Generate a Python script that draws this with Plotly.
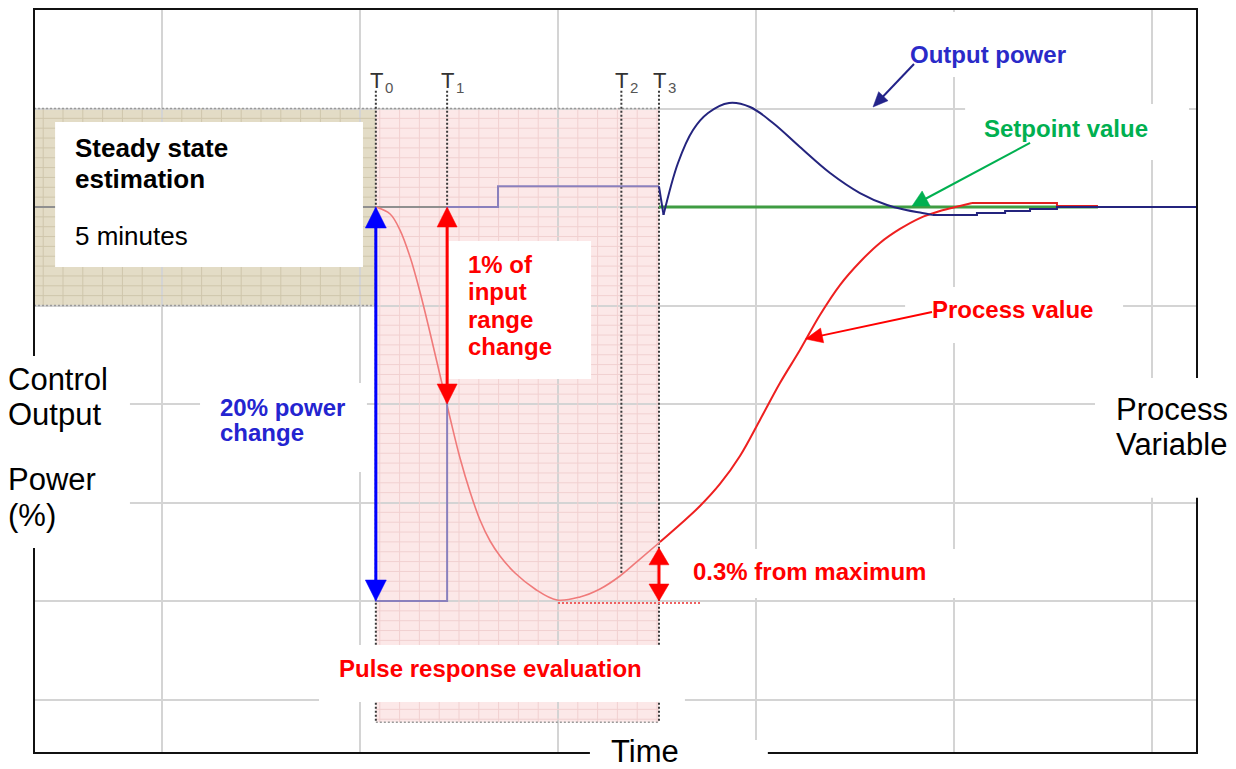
import numpy as np
import plotly.graph_objects as go

# ---------------- data (time in grid divisions, value in grid divisions; setpoint = 0) -------------
T_MARKS = [1.08, 1.44, 2.32, 2.51]          # T0..T3
T_NAMES = ["0", "1", "2", "3"]
T_TOP = 1.18
T_BOTTOM = [-5.23, 0.0, -3.72, -5.23]

# frame extents of the drawing (time / value)
X_LEFT, X_RIGHT = -0.6465, 5.2273
Y_BOTTOM, Y_TOP = -5.5431, 2.0102

# steady-state window and pulse-evaluation window
STEADY_T = [X_LEFT, 1.08]
STEADY_V = [-1.0, 1.0]
PULSE_T = [1.08, 2.51]
PULSE_V = [-5.23, 1.0]

# process value during pulse (faint part, before T3)
pv_pre_t = [1.081, 1.152, 1.202, 1.253, 1.303, 1.354, 1.404, 1.455, 1.505, 1.556, 1.606,
            1.657, 1.707, 1.783, 1.884, 1.995, 2.111, 2.212, 2.313, 2.414, 2.515]
pv_pre_v = [0.0, -0.071, -0.234, -0.508, -0.863, -1.279, -1.706, -2.142, -2.548, -2.893, -3.178,
            -3.391, -3.543, -3.716, -3.878, -3.990, -3.959, -3.878, -3.746, -3.574, -3.401]
# process value after T3
pv_post_t = [2.515, 2.616, 2.717, 2.818, 2.919, 3.020, 3.121, 3.222, 3.323, 3.424, 3.525,
             3.626, 3.727, 3.828, 3.929, 4.030, 4.091]
pv_post_v = [-3.401, -3.223, -3.036, -2.812, -2.528, -2.162, -1.787, -1.452, -1.096, -0.792, -0.558,
             -0.365, -0.223, -0.112, -0.041, 0.010, 0.041]
pv_settle_t = [4.091, 4.52, 4.52, 4.727]
pv_settle_v = [0.041, 0.041, 0.01, 0.01]

# output power: pulse step, then controller response
out_step_t = [1.08, 1.08, 1.44, 1.44, 1.697, 1.697, 2.51]
out_step_v = [0.0, -4.0, -4.0, 0.0, 0.0, 0.21, 0.21]
out_dip_t = [2.51, 2.533]
out_dip_v = [0.21, -0.08]
out_t = [2.533, 2.606, 2.682, 2.758, 2.864, 2.970, 3.086, 3.222, 3.374, 3.525, 3.662, 3.758, 3.84, 3.89]
out_v = [-0.08, 0.447, 0.782, 0.954, 1.056, 1.015, 0.853, 0.609, 0.345, 0.142, 0.020, -0.030, -0.06, -0.08]
out_settle_t = [3.89, 4.116, 4.116, 4.258, 4.258, 4.384, 4.384, 4.52, 4.52, X_RIGHT]
out_settle_v = [-0.08, -0.08, -0.06, -0.06, -0.04, -0.04, -0.02, -0.02, 0.0, 0.0]

# setpoint
sp_t = [2.51, 4.727]
sp_v = [0.0, 0.0]
base_t = [X_LEFT, 1.44]
base_v = [0.0, 0.0]

# 0.3 % reference line
ref_t = [2.0, 2.72]
ref_v = [-4.02, -4.02]

FONT = "Liberation Sans, Arial, sans-serif"

# page body has an 8 px margin: figure is sized/margined so that the frame lands where intended
FIG_W, FIG_H = 1228, 761
M_L, M_R, M_T, M_B = 26, 39, 1, 16
PLOT_W = FIG_W - M_L - M_R
PLOT_H = FIG_H - M_T - M_B
PX_T = PLOT_W / (X_RIGHT - X_LEFT)
PX_V = PLOT_H / (Y_TOP - Y_BOTTOM)

fig = go.Figure()


def minor_grid(t0, t1, v0, v1, step=0.1):
    xs, ys = [], []
    k0 = int(np.ceil(t0 / step + 1e-9))
    k1 = int(np.floor(t1 / step - 1e-9))
    for k in range(k0, k1 + 1):
        if k % 10 == 0:
            continue
        t = k * step
        xs += [t, t, None]
        ys += [v0, v1, None]
    k0 = int(np.ceil(v0 / step + 1e-9))
    k1 = int(np.floor(v1 / step - 1e-9))
    for k in range(k0, k1 + 1):
        if k % 10 == 0:
            continue
        v = k * step
        xs += [t0, t1, None]
        ys += [v, v, None]
    return xs, ys


gx, gy = minor_grid(STEADY_T[0], STEADY_T[1], STEADY_V[0], STEADY_V[1])
fig.add_trace(go.Scatter(x=gx, y=gy, mode="lines", line=dict(color="#cfc6ac", width=1), hoverinfo="skip"))
gx, gy = minor_grid(PULSE_T[0], PULSE_T[1], PULSE_V[0], PULSE_V[1])
fig.add_trace(go.Scatter(x=gx, y=gy, mode="lines", line=dict(color="#f1d0d0", width=1), hoverinfo="skip"))

# window borders (dotted)
dot_grey = dict(color="#9a9a9a", width=1.5, dash="2px,2px")
fig.add_trace(go.Scatter(x=[X_LEFT, PULSE_T[1]], y=[1.0, 1.0], mode="lines", line=dot_grey))
fig.add_trace(go.Scatter(x=STEADY_T, y=[STEADY_V[0]] * 2, mode="lines", line=dot_grey))
fig.add_trace(go.Scatter(x=PULSE_T, y=[PULSE_V[0]] * 2, mode="lines", line=dot_grey))

# baseline
fig.add_trace(go.Scatter(x=base_t, y=base_v, mode="lines", line=dict(color="#8f8f8f", width=2)))

# T marker lines
for t, b in zip(T_MARKS, T_BOTTOM):
    fig.add_trace(go.Scatter(x=[t, t], y=[T_TOP, b], mode="lines",
                             line=dict(color="#3a3a3a", width=2, dash="2px,2px")))

# PV during pulse (faint)
fig.add_trace(go.Scatter(x=pv_pre_t, y=pv_pre_v, mode="lines",
                         line=dict(color="#f07a7a", width=1.6, shape="spline")))
# output step (lavender)
fig.add_trace(go.Scatter(x=out_step_t, y=out_step_v, mode="lines",
                         line=dict(color="#8a80bd", width=2)))
# setpoint
fig.add_trace(go.Scatter(x=sp_t, y=sp_v, mode="lines", line=dict(color="#3f9c42", width=3)))
# PV after T3
fig.add_trace(go.Scatter(x=pv_post_t, y=pv_post_v, mode="lines",
                         line=dict(color="#ee2020", width=2, shape="spline")))
fig.add_trace(go.Scatter(x=pv_settle_t, y=pv_settle_v, mode="lines",
                         line=dict(color="#e02020", width=2)))
# output power after T3 (navy)
navy = dict(color="#24247e", width=2)
fig.add_trace(go.Scatter(x=out_dip_t, y=out_dip_v, mode="lines", line=navy))
fig.add_trace(go.Scatter(x=out_t, y=out_v, mode="lines", line=dict(navy, shape="spline")))
fig.add_trace(go.Scatter(x=out_settle_t, y=out_settle_v, mode="lines", line=navy))
# 0.3 % reference dotted line
fig.add_trace(go.Scatter(x=ref_t, y=ref_v, mode="lines",
                         line=dict(color="#f06060", width=2, dash="2px,2px")))

# ---------------- shapes ----------------
shapes = [
    dict(type="rect", xref="x", yref="y", x0=STEADY_T[0], x1=STEADY_T[1], y0=STEADY_V[0], y1=STEADY_V[1],
         fillcolor="#e3dcc6", line=dict(width=0), layer="below"),
    dict(type="rect", xref="x", yref="y", x0=PULSE_T[0], x1=PULSE_T[1], y0=PULSE_V[0], y1=PULSE_V[1],
         fillcolor="#fce8e8", line=dict(width=0), layer="below"),
    dict(type="rect", xref="paper", yref="paper", x0=0, x1=1, y0=0, y1=1,
         line=dict(color="#111111", width=2), fillcolor="rgba(0,0,0,0)", layer="above"),
]
white_data = [
    (-0.540, 1.015, -0.609, 0.863),   # steady state box
    (0.192, 1.035, -2.690, -1.787),   # 20 % power change
    (1.449, 2.167, -1.746, -0.345),   # 1 % of input
    (3.717, 4.626, 1.320, 1.980),     # output power
    (4.056, 5.187, 0.477, 1.046),     # setpoint value
    (3.753, 4.854, -1.381, -0.812),   # process value
    (2.581, 4.449, -3.970, -3.472),   # 0.3 %
    (0.793, 2.641, -5.025, -4.447),   # pulse response evaluation
]
for x0, x1, y0, y1 in white_data:
    shapes.append(dict(type="rect", xref="x", yref="y", x0=x0, x1=x1, y0=y0, y1=y1,
                       fillcolor="white", line=dict(width=0), layer="above"))
white_paper = [
    (-0.03, 0.0825, 0.2755, 0.5336),   # Control output power
    (0.9123, 1.04, 0.343, 0.504),      # Process variable
    (0.478, 0.631, -0.03, 0.0175),     # Time
]
for x0, x1, y0, y1 in white_paper:
    shapes.append(dict(type="rect", xref="paper", yref="paper", x0=x0, x1=x1, y0=y0, y1=y1,
                       fillcolor="white", line=dict(width=0), layer="above"))


def head(xt, yt, xf, yf, L, W):
    """triangle head with tip at (xt, yt) pointing away from (xf, yf); sizes in px"""
    dx = (xt - xf) * PX_T
    dy = (yt - yf) * PX_V
    n = (dx * dx + dy * dy) ** 0.5
    ux, uy = dx / n, dy / n
    bx, by = xt - L * ux / PX_T, yt - L * uy / PX_V
    px_, py_ = -uy, ux
    p1 = (bx + W / 2 * px_ / PX_T, by + W / 2 * py_ / PX_V)
    p2 = (bx - W / 2 * px_ / PX_T, by - W / 2 * py_ / PX_V)
    path = "M%.5f,%.5f L%.5f,%.5f L%.5f,%.5f Z" % (xt, yt, p1[0], p1[1], p2[0], p2[1])
    inner = (xt - 0.6 * L * ux / PX_T, yt - 0.6 * L * uy / PX_V)
    return path, inner


def arrow(x, y, ax, ay, color, width, L, W, both=False):
    path, inner = head(x, y, ax, ay, L, W)
    start = (ax, ay)
    if both:
        path2, start = head(ax, ay, x, y, L, W)
    shapes.append(dict(type="line", xref="x", yref="y", x0=start[0], y0=start[1], x1=inner[0], y1=inner[1],
                       line=dict(color=color, width=width), layer="above"))
    shapes.append(dict(type="path", xref="x", yref="y", path=path, fillcolor=color,
                       line=dict(color=color, width=0.5), layer="above"))
    if both:
        shapes.append(dict(type="path", xref="x", yref="y", path=path2, fillcolor=color,
                           line=dict(color=color, width=0.5), layer="above"))


arrow(T_MARKS[0], 0.0, T_MARKS[0], -4.0, "#0000ff", 3, 21, 21, both=True)
arrow(T_MARKS[1], 0.0, T_MARKS[1], -2.0, "#ff0000", 3, 20, 20, both=True)
arrow(T_MARKS[3], -3.46, T_MARKS[3], -4.0, "#ff0000", 3, 17, 20, both=True)
arrow(3.591, 1.015, 3.798, 1.452, "#23238a", 2, 15, 13)
arrow(3.788, 0.01, 4.384, 0.650, "#00b050", 2, 16, 17)
arrow(3.250, -1.34, 3.889, -1.066, "#ff0000", 2, 17, 15)

# ---------------- annotations ----------------
ann = []


def txt(x, y, s, size, color, bold=False, xref="x", yref="y", xanchor="left", yanchor="middle", xshift=0):
    ann.append(dict(x=x, y=y, xref=xref, yref=yref, text=("<b>%s</b>" % s) if bold else s,
                    showarrow=False, xanchor=xanchor, yanchor=yanchor, borderpad=0, borderwidth=0,
                    xshift=xshift, font=dict(family=FONT, size=size, color=color)))


txt(-0.439, 0.599, "Steady state", 26, "#000000", True)
txt(-0.439, 0.284, "estimation", 26, "#000000", True)
txt(-0.439, -0.294, "5 minutes", 26, "#000000")

for s, y in zip(["1% of", "input", "range", "change"], [-0.586, -0.860, -1.144, -1.418]):
    txt(1.545, y, s, 24, "#ff0000", True)
txt(0.293, -2.038, "20% power", 24, "#2424d0", True)
txt(0.293, -2.291, "change", 24, "#2424d0", True)
txt(3.778, 1.546, "Output power", 24, "#2a2ac8", True)
txt(4.152, 0.795, "Setpoint value", 24, "#00b050", True)
txt(3.889, -1.043, "Process value", 24, "#ff0000", True)
txt(2.682, -3.703, "0.3% from maximum", 24, "#ff0000", True)
txt(0.894, -4.687, "Pulse response evaluation", 24, "#ff0000", True)

LX = -M_L / PLOT_W
txt(LX, 0.5023, "Control", 31, "#000000", xref="paper", yref="paper")
txt(LX, 0.4552, "Output", 31, "#000000", xref="paper", yref="paper")
txt(LX, 0.3679, "Power", 31, "#000000", xref="paper", yref="paper")
txt(LX, 0.3188, "(%)", 31, "#000000", xref="paper", yref="paper")
txt(0.9304, 0.4620, "Process", 31, "#000000", xref="paper", yref="paper")
txt(0.9304, 0.4149, "Variable", 31, "#000000", xref="paper", yref="paper")
txt(0.5254, -M_B / PLOT_H, "Time", 31, "#000000", xref="paper", yref="paper", xanchor="center", yanchor="bottom")

# time marker labels: "T" with a small index digit
for t, n in zip(T_MARKS, T_NAMES):
    txt(t, 1.282, "T", 22, "#333333", xshift=-6)
    txt(t, 1.215, n, 15, "#555555", xshift=9)

fig.update_layout(
    width=FIG_W, height=FIG_H, margin=dict(l=M_L, r=M_R, t=M_T, b=M_B),
    plot_bgcolor="white", paper_bgcolor="white", showlegend=False,
    shapes=shapes, annotations=ann,
)
axis_common = dict(dtick=1, tick0=0, showgrid=True, gridcolor="#d4d4d4", gridwidth=2,
                   showticklabels=False, zeroline=False, ticks="", showline=False, fixedrange=True)
fig.update_xaxes(range=[X_LEFT, X_RIGHT], **axis_common)
fig.update_yaxes(range=[Y_BOTTOM, Y_TOP], **axis_common)

fig.write_html("out.html", config={"displayModeBar": False})
